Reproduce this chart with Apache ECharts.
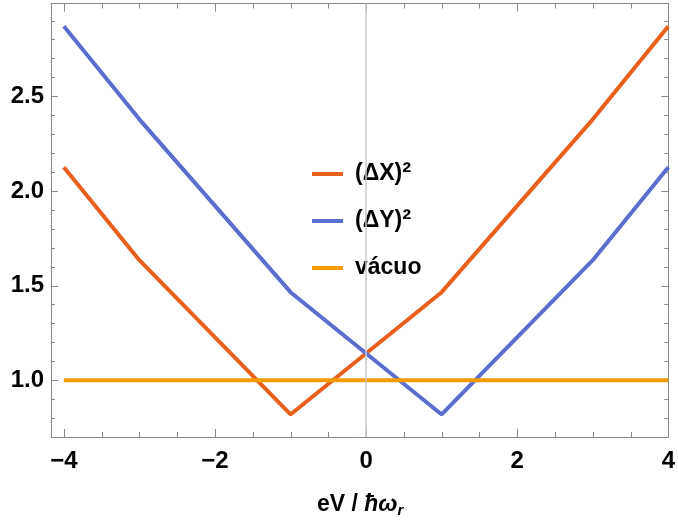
<!DOCTYPE html>
<html>
<head>
<meta charset="utf-8">
<script src="https://cdn.jsdelivr.net/npm/echarts@6/dist/echarts.min.js"></script>
<style>
  html, body { margin: 0; padding: 0; background: #fff; }
  #chart { width: 678px; height: 527px; }
</style>
</head>
<body>
<div id="chart"></div>
<script>
// values
var xPoints = [-4, -3, -1, 1, 3, 4];
var deltaX2 = [2.125, 1.634, 0.819, 1.465, 2.378, 2.87];
var deltaY2 = [2.87, 2.378, 1.465, 0.819, 1.634, 2.125];
var vacuoX = [-4, 4];
var vacuoY = [1, 1];

// tick positions of the frame
var xMajor = [-4, -2, 0, 2, 4];
var xMinor = [-3.5, -3, -2.5, -1.5, -1, -0.5, 0.5, 1, 1.5, 2.5, 3, 3.5];
var yMajor = [1.0, 1.5, 2.0, 2.5];
var yMinor = [0.8, 0.9, 1.1, 1.2, 1.3, 1.4, 1.6, 1.7, 1.8, 1.9,
              2.1, 2.2, 2.3, 2.4, 2.6, 2.7, 2.8, 2.9];

var FONT = '"Liberation Sans", Arial, sans-serif';
var frameColor = '#888888';
var xMin = -4.17, xMax = 4, yMin = 0.7, yMax = 2.99;

function pairs(xs, ys) {
  return xs.map(function (x, i) { return [x, ys[i]]; });
}

// tick rows: [x, y, length]
var xTickRows = xMajor.map(function (v) { return [v, yMin, 8]; })
  .concat(xMinor.map(function (v) { return [v, yMin, 5]; }));
var yTickRows = yMajor.map(function (v) { return [xMin, v, 7]; })
  .concat(yMinor.map(function (v) { return [xMin, v, 4]; }));

function tickLine(x1, y1, x2, y2) {
  return { type: 'line', shape: { x1: x1, y1: y1, x2: x2, y2: y2 },
           style: { stroke: frameColor, lineWidth: 1 } };
}

// ticks drawn inside the frame on both opposite sides
function renderXTick(params, api) {
  var v = api.value(0), len = api.value(2);
  var b = api.coord([v, yMin]), t = api.coord([v, yMax]);
  var x = Math.round(b[0]) + 0.5;
  return { type: 'group', children: [
    tickLine(x, b[1], x, b[1] - len),
    tickLine(x, t[1], x, t[1] + len)
  ] };
}
function renderYTick(params, api) {
  var v = api.value(1), len = api.value(2);
  var l = api.coord([xMin, v]), r = api.coord([xMax, v]);
  var y = Math.round(l[1]) + 0.5;
  return { type: 'group', children: [
    tickLine(l[0], y, l[0] + len, y),
    tickLine(r[0], y, r[0] - len, y)
  ] };
}

function xAx(pos, labels) {
  return {
    type: 'value', position: pos, min: xMin, max: xMax, splitNumber: 4,
    axisLine: { show: true, lineStyle: { color: frameColor, width: 1 } },
    splitLine: { show: false },
    axisTick: { show: false },
    axisLabel: {
      show: labels, margin: 12, showMinLabel: false, showMaxLabel: true,
      color: '#000', fontFamily: FONT, fontWeight: 'bold', fontSize: 24,
      formatter: function (v) { return v < 0 ? '\u2212' + (-v) : String(v); }
    }
  };
}

function yAx(pos, labels) {
  return {
    type: 'value', position: pos, min: yMin, max: yMax, splitNumber: 5,
    axisLine: { show: true, onZero: false, lineStyle: { color: frameColor, width: 1 } },
    splitLine: { show: false },
    axisTick: { show: false },
    axisLabel: {
      show: labels, margin: 7, showMinLabel: false, showMaxLabel: false,
      color: '#000', fontFamily: FONT, fontWeight: 'bold', fontSize: 24,
      formatter: function (v) { return v.toFixed(1); }
    }
  };
}

var chart = echarts.init(document.getElementById('chart'));
chart.setOption({
  animation: false,
  backgroundColor: '#fff',
  grid: { left: 51, right: 8, top: 3.5, bottom: 90 },
  xAxis: [xAx('bottom', true), xAx('top', false)],
  yAxis: [yAx('left', true), yAx('right', false)],
  // x axis title
  title: {
    text: 'eV / {it|\u0127\u03c9}{sub|r}',
    left: 312, top: 486,
    textStyle: {
      color: '#000', fontFamily: FONT, fontWeight: 'bold', fontSize: 23, lineHeight: 28,
      rich: {
        it: { color: '#000', fontFamily: FONT, fontWeight: 'bold', fontStyle: 'italic', fontSize: 23, lineHeight: 28 },
        sub: { color: '#000', fontFamily: FONT, fontWeight: 'bold', fontStyle: 'italic', fontSize: 15,
               lineHeight: 15, padding: [12, 0, 0, 0] }
      }
    }
  },
  legend: {
    orient: 'vertical', left: 307, top: 155,
    itemWidth: 31, itemHeight: 4, itemGap: 19, icon: 'rect',
    data: ['(\u0394X)2', '(\u0394Y)2', 'v\u00e1cuo'],
    formatter: function (name) {
      if (name === 'v\u00e1cuo') return name;
      return name.slice(0, 4) + '{sup|\u00b2}';
    },
    textStyle: {
      color: '#000', fontFamily: FONT, fontWeight: 'bold', fontSize: 23,
      lineHeight: 28, padding: [0, 0, 0, 7],
      rich: {
        sup: { color: '#000', fontFamily: FONT, fontWeight: 'bold', fontSize: 27, lineHeight: 28 }
      }
    }
  },
  series: [
    {
      name: 'xticks', type: 'custom', silent: true, clip: false, z: 1,
      renderItem: renderXTick, data: xTickRows
    },
    {
      name: 'yticks', type: 'custom', silent: true, clip: false, z: 1,
      renderItem: renderYTick, data: yTickRows
    },
    {
      name: '(\u0394X)2', type: 'line', showSymbol: false, symbol: 'none',
      data: pairs(xPoints, deltaX2),
      lineStyle: { color: '#E8601C', width: 4 }, itemStyle: { color: '#E8601C' },
      markLine: {
        silent: true, symbol: 'none', label: { show: false },
        lineStyle: { color: '#c8c8c8', width: 1.5, type: 'solid' },
        data: [{ xAxis: 0 }]
      },
      z: 2
    },
    {
      name: '(\u0394Y)2', type: 'line', showSymbol: false, symbol: 'none',
      data: pairs(xPoints, deltaY2),
      lineStyle: { color: '#5B6DCD', width: 4 }, itemStyle: { color: '#5B6DCD' },
      z: 3
    },
    {
      name: 'v\u00e1cuo', type: 'line', showSymbol: false, symbol: 'none',
      data: pairs(vacuoX, vacuoY),
      lineStyle: { color: '#F39C00', width: 4 }, itemStyle: { color: '#F39C00' },
      z: 4
    }
  ]
});
</script>
</body>
</html>
